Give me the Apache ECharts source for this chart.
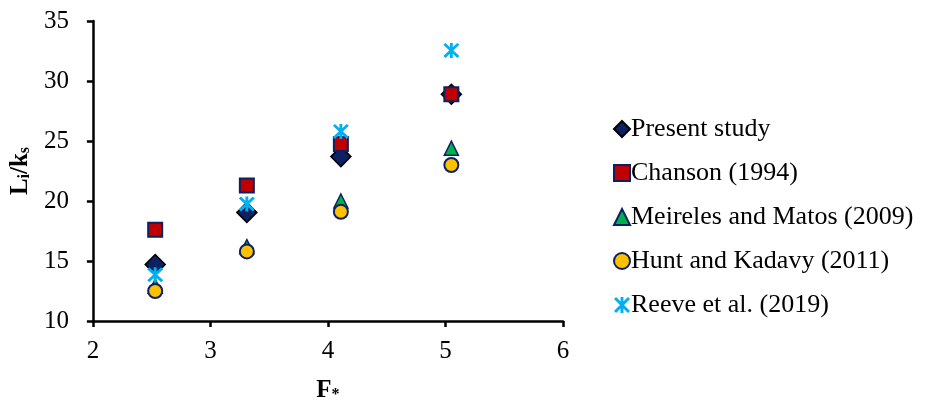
<!DOCTYPE html>
<html>
<head>
<meta charset="utf-8">
<script src="https://cdn.jsdelivr.net/npm/echarts@6/dist/echarts.min.js"></script>
<style>
  html, body { margin: 0; padding: 0; background: #fff; }
  #main { width: 930px; height: 408px; }
</style>
</head>
<body>
<div id="main"></div>
<script>
// F* values of the four test cases
const froude = [2.53, 3.31, 4.11, 5.05];

// Li/ks for each source
const presentStudy = [14.7, 19.05, 23.7, 28.9];
const chanson = [17.6, 21.3, 24.75, 28.9];
const meireles = [12.9, 16.2, 20.0, 24.4];
const huntKadavy = [12.5, 15.8, 19.1, 23.0];
const reeve = [13.85, 19.75, 25.8, 32.55];

const xTicks = [2, 3, 4, 5, 6];
const yTicks = [10, 15, 20, 25, 30, 35];

const FONT = '"Liberation Serif", "Times New Roman", serif';
// excel-like asterisk marker (X plus vertical bar)
const starPath = 'path://M4.1 0 L5.9 0 L5.9 10 L4.1 10 Z M0 1.3 L1.3 0 L10 8.7 L8.7 10 Z M8.7 0 L10 1.3 L1.3 10 L0 8.7 Z';

const toPts = (ys) => froude.map((x, i) => [x, ys[i]]);

const nameRich = {
  b: { fontFamily: FONT, fontSize: 25, fontWeight: 'bold', color: '#000', lineHeight: 26, verticalAlign: 'bottom' },
  s: { fontFamily: FONT, fontSize: 16, fontWeight: 'bold', color: '#000', lineHeight: 10, verticalAlign: 'bottom' }
};

const chart = echarts.init(document.getElementById('main'));

const option = {
  animation: false,
  backgroundColor: '#fff',
  grid: { left: 92, right: 367, top: 21, bottom: 85 },
  legend: {
    orient: 'vertical',
    left: 608,
    top: 111,
    itemGap: 18,
    itemWidth: 16,
    itemHeight: 16,
    textStyle: { fontFamily: FONT, fontSize: 26, color: '#000', padding: [0, 0, 0, -4] },
    data: ['Present study', 'Chanson (1994)', 'Meireles and Matos (2009)', 'Hunt and Kadavy (2011)', 'Reeve et al. (2019)']
  },
  xAxis: {
    type: 'value',
    min: xTicks[0],
    max: xTicks[xTicks.length - 1],
    interval: 1,
    splitLine: { show: false },
    axisLine: { lineStyle: { color: '#000', width: 2.5 } },
    axisTick: { show: true, length: 6, lineStyle: { color: '#000', width: 2.5 } },
    axisLabel: { fontFamily: FONT, fontSize: 25, color: '#000', margin: 18 },
    name: '{b|F}{s|*}',
    nameLocation: 'middle',
    nameGap: 56,
    nameTextStyle: { rich: nameRich }
  },
  yAxis: {
    type: 'value',
    min: yTicks[0],
    max: yTicks[yTicks.length - 1],
    interval: 5,
    splitLine: { show: false },
    axisLine: { show: true, lineStyle: { color: '#000', width: 2.5 } },
    axisTick: { show: true, length: 6, lineStyle: { color: '#000', width: 2.5 } },
    axisLabel: { fontFamily: FONT, fontSize: 25, color: '#000', margin: 24 },
    name: '{b|L}{s|i}{b|/k}{s|s}',
    nameLocation: 'middle',
    nameRotate: 90,
    nameGap: 58,
    nameTextStyle: { rich: nameRich }
  },
  series: [
    {
      name: 'Present study',
      type: 'scatter',
      symbol: 'diamond',
      symbolSize: 20,
      itemStyle: { color: '#0B2161', borderColor: '#000', borderWidth: 1.5, opacity: 1 },
      data: toPts(presentStudy)
    },
    {
      name: 'Chanson (1994)',
      type: 'scatter',
      symbol: 'rect',
      symbolSize: 14,
      itemStyle: { color: '#C00000', borderColor: '#0B2161', borderWidth: 2, opacity: 1 },
      data: toPts(chanson)
    },
    {
      name: 'Meireles and Matos (2009)',
      type: 'scatter',
      symbol: 'triangle',
      symbolSize: 14,
      itemStyle: { color: '#00B050', borderColor: '#0B2161', borderWidth: 1.5, opacity: 1 },
      data: toPts(meireles)
    },
    {
      name: 'Hunt and Kadavy (2011)',
      type: 'scatter',
      symbol: 'circle',
      symbolSize: 14,
      itemStyle: { color: '#FFC000', borderColor: '#0B2161', borderWidth: 2, opacity: 1 },
      data: toPts(huntKadavy)
    },
    {
      name: 'Reeve et al. (2019)',
      type: 'scatter',
      symbol: starPath,
      symbolSize: [16, 15],
      itemStyle: { color: '#00B0F0', opacity: 1 },
      data: toPts(reeve)
    }
  ]
};

chart.setOption(option);
</script>
</body>
</html>
